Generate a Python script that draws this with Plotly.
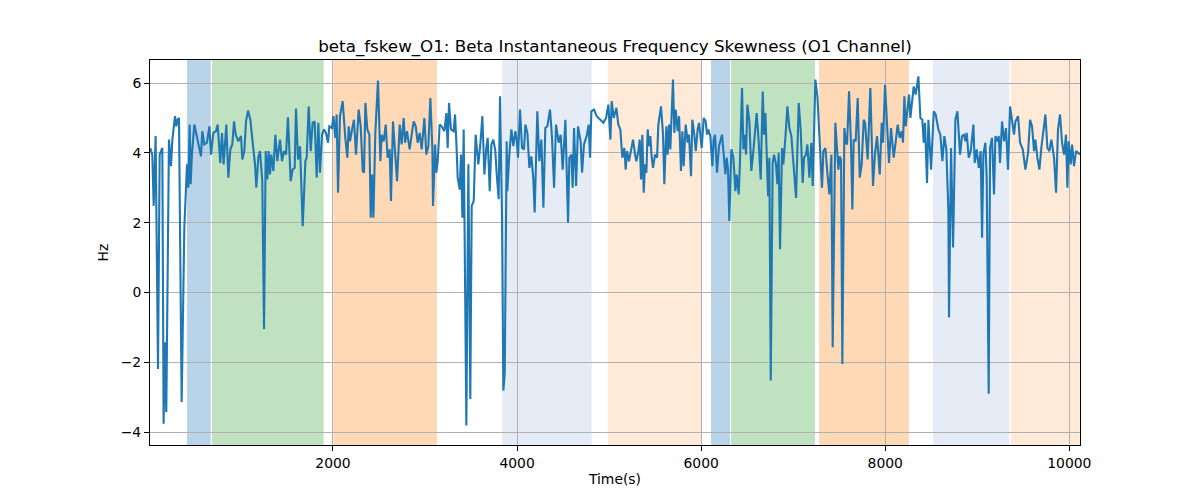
import plotly.graph_objects as go

# ---- data (time in s, value in Hz) ----
time_s = [
    15, 37, 52, 73, 99, 117, 146, 160, 175, 189, 218, 240, 255, 284, 298, 312, 327, 356, 385, 414,
    428, 443, 454, 468, 494, 523, 548, 566, 580, 602, 631, 657, 675, 700, 729, 747, 776, 794, 812, 841,
    863, 885, 906, 925, 943, 972, 1001, 1015, 1037, 1055, 1077, 1102, 1124, 1153, 1167, 1189, 1207, 1232,
    1251, 1269, 1287, 1301, 1316, 1330, 1352, 1374, 1395, 1424, 1446, 1468, 1490, 1511, 1540, 1562, 1584,
    1598, 1620, 1642, 1671, 1700, 1714, 1736, 1758, 1779, 1801, 1823, 1841, 1859, 1881, 1902, 1924, 1946,
    1960, 1989, 2004, 2026, 2040, 2055, 2076, 2105, 2134, 2156, 2171, 2185, 2207, 2228, 2250, 2279, 2301,
    2323, 2337, 2352, 2373, 2395, 2410, 2424, 2439, 2460, 2489,
    2515, 2529, 2551, 2573, 2594, 2616, 2630, 2652, 2674, 2696, 2725, 2746, 2768, 2783, 2804, 2833, 2855,
    2877, 2899, 2920, 2942, 2964, 2993, 3014, 3036, 3058, 3080, 3087, 3109, 3123, 3138, 3159, 3181, 3210,
    3232, 3246, 3261, 3282, 3311, 3326, 3340, 3355, 3377, 3391, 3406, 3420, 3449, 3471, 3492, 3507, 3529,
    3550, 3579, 3601, 3623, 3645, 3666, 3681, 3703,
    3721, 3742, 3764, 3779, 3800, 3815, 3837, 3851, 3866, 3887, 3894, 3916, 3938, 3960, 3981, 3996, 4010,
    4032, 4054, 4076, 4090, 4112, 4134, 4155, 4177, 4191, 4220, 4242, 4264, 4286, 4307, 4329, 4358, 4380,
    4402, 4423, 4452, 4474, 4496, 4525, 4546, 4554, 4568, 4590, 4604, 4619, 4641, 4662, 4691, 4706, 4727,
    4756, 4778, 4793, 4807, 4836, 4865, 4901, 4938, 4967,
    4992, 5014, 5028, 5050, 5079, 5100, 5122, 5144, 5166, 5180, 5195, 5216, 5238, 5260, 5282, 5296, 5318,
    5332, 5347, 5361, 5376, 5390, 5405, 5419, 5434, 5448, 5463, 5477, 5499, 5521, 5535, 5564, 5586, 5600,
    5622, 5636, 5651, 5665, 5694, 5709, 5723, 5745, 5760, 5781, 5796, 5810, 5832, 5854, 5868, 5890, 5904,
    5926, 5941, 5962, 5977, 6006, 6028, 6049, 6064, 6078, 6100, 6122, 6136, 6151, 6172, 6194,
    6227, 6241, 6263, 6277, 6292, 6306, 6328, 6350, 6372, 6386, 6408, 6422, 6444, 6459, 6473, 6488, 6502,
    6524, 6545, 6567, 6582, 6603, 6625, 6647, 6669, 6683, 6698, 6712, 6727, 6741, 6756, 6777, 6792, 6813,
    6828, 6842, 6857, 6879, 6893, 6915, 6937, 6958, 6980, 7009, 7031, 7060, 7082, 7103, 7118, 7139, 7154,
    7176, 7197, 7212, 7241, 7263, 7284, 7313, 7328, 7350, 7371, 7393, 7415, 7429, 7458,
    7476, 7491, 7505, 7520, 7534, 7556, 7570, 7585, 7607, 7628, 7643, 7657, 7679, 7701, 7723, 7744, 7766,
    7781, 7809, 7838, 7867, 7889, 7911, 7940, 7962, 7976, 7998, 8020, 8041, 8063, 8092, 8114, 8135, 8157,
    8179, 8193, 8208, 8222, 8237, 8259, 8273, 8295, 8309, 8331, 8360, 8382, 8403, 8418, 8432, 8454, 8469,
    8498, 8527, 8548, 8577, 8599, 8621, 8642, 8664, 8686, 8693, 8715, 8737,
    8762, 8784, 8813, 8834, 8856, 8871, 8885, 8907, 8929, 8958, 8972, 8994, 9016, 9037, 9052, 9066, 9088,
    9102, 9124, 9139, 9160, 9182, 9197, 9218, 9233, 9247, 9269, 9291, 9312, 9334, 9356, 9378, 9399, 9414,
    9443, 9465, 9494, 9523, 9552, 9573, 9595, 9617, 9631, 9653, 9675, 9696, 9718, 9740, 9762, 9783, 9805,
    9834, 9856, 9877, 9899, 9921, 9943, 9964, 9979, 9993, 10015, 10030, 10051, 10073, 10095, 10115,
]

beta_fskew = [
    4.14, 3.95, 2.48, 4.48, -2.19, 3.95, 4.14, -3.76, -1.43, -3.43, 4.38, 3.62, 4.38, 5.05, 4.76, 4.95, 5.00, -3.14, 1.86, 3.67,
    3.00, 4.81, 3.10, 4.00, 4.81, 4.43, 4.14, 3.90, 4.62, 4.24, 4.29, 4.76, 3.95, 4.57, 4.62, 4.81, 3.71, 4.57, 3.67, 4.81,
    3.29, 4.10, 4.24, 4.90, 4.52, 4.33, 4.48, 3.81, 4.05, 4.90, 5.21, 4.95, 4.38, 3.67, 3.00, 3.86, 4.05, 3.19,
    -1.05, 4.05, 3.24, 4.05, 3.38, 3.95, 3.48, 4.52, 3.76, 4.38, 3.76, 4.05, 3.95, 5.02, 3.19, 3.52, 3.57,
    5.27, 3.81, 4.19, 1.90, 3.76, 3.86, 5.33, 4.05, 4.86, 4.90, 3.29, 4.86, 3.43, 4.52, 4.67, 4.57, 4.29,
    4.76, 4.71, 5.05, 4.43, 5.10, 2.86, 5.05, 5.48, 4.43, 3.86, 4.76, 4.33, 4.67, 4.95, 3.95, 5.24, 4.76,
    3.48, 3.43, 5.43, 4.67, 4.52, 2.14, 3.38, 2.14, 4.57, 6.07,
    3.76, 4.52, 4.33, 4.81, 3.86, 4.10, 2.62, 4.90, 4.14, 3.19, 4.81, 4.24, 5.00, 4.29, 4.62, 4.10, 4.52,
    4.90, 4.76, 4.29, 4.57, 4.10, 5.00, 3.95, 4.19, 5.57, 4.10, 2.48, 4.24, 3.43, 3.76, 4.81, 4.76, 4.62,
    5.14, 4.14, 5.43, 4.67, 4.62, 5.10, 4.33, 3.29, 2.95, 3.95, 2.14, 4.67, -3.81, 3.67, -3.05, 2.48, 2.62,
    4.52, 3.67, 4.24, 5.05, 3.38, 4.14, 4.43, 2.90,
    4.24, 4.38, 4.05, 3.38, 2.67, 5.62, 2.05, -2.81, -2.33, 4.33, 2.90, 3.95, 4.67, 4.19, 4.62, 4.38, 3.86,
    5.24, 4.14, 4.10, 4.81, 4.57, 3.57, 3.90, 3.24, 2.29, 5.19, 3.76, 4.38, 2.43, 4.71, 4.76, 5.24, 4.43,
    3.00, 4.81, 4.29, 4.52, 3.52, 4.95, 3.19, 2.00, 3.86, 3.95, 3.00, 4.71, 3.05, 4.76, 4.33, 3.43, 4.24,
    4.48, 4.81, 3.86, 5.19, 5.24, 5.05, 4.95, 4.86, 5.00,
    5.38, 4.38, 5.48, 5.00, 5.29, 4.81, 4.67, 3.86, 4.14, 3.52, 4.05, 3.76, 4.05, 4.38, 3.95, 3.76, 4.05,
    4.38, 3.24, 4.52, 2.86, 3.67, 3.43, 4.67, 4.19, 4.48, 3.86, 3.57, 3.95, 3.86, 4.81, 5.33, 4.52, 3.10,
    4.76, 3.95, 4.81, 4.10, 6.10, 4.57, 5.24, 4.62, 5.05, 3.48, 4.62, 3.62, 4.81, 4.29, 4.52, 3.33, 4.95,
    4.52, 4.05, 4.67, 4.86, 4.14, 5.00, 4.90, 4.52, 4.67, 4.48, 3.62, 4.38, 4.52, 3.43, 4.19,
    4.52, 4.10, 3.38, 3.86, 3.52, 2.05, 4.10, 3.86, 2.90, 3.38, 2.81, 3.76, 5.86, 4.10, 4.52, 3.95, 5.38,
    4.90, 3.48, 4.05, 4.52, 5.14, 4.33, 3.24, 5.76, 4.52, 5.14, 3.95, 2.76, 3.86, -2.52, 3.71, 3.95, 3.67,
    3.10, 4.00, 1.24, 4.14, 3.67, 4.43, 5.33, 4.71, 4.48, 3.48, 2.71, 5.43, 4.62, 3.14, 3.86, 3.95, 4.24,
    3.29, 4.29, 3.05, 6.10, 5.62, 4.52, 3.00, 4.05, 4.14, 3.43, 2.81, 3.95, -1.57, 4.86,
    3.95, 3.52, 3.90, 3.81, -2.05, 4.71, 4.33, 4.24, 5.76, 4.24, 2.38, 4.38, 4.33, 5.57, 3.29, 3.67, 4.95,
    4.86, 3.81, 5.86, 3.05, 4.00, 4.48, 3.38, 4.86, 4.29, 5.95, 4.71, 3.71, 4.71, 3.86, 4.33, 4.81, 4.43,
    4.62, 4.29, 5.62, 4.76, 5.10, 5.67, 5.00, 5.48, 5.90, 5.67, 6.19, 5.00, 4.95, 4.29, 4.86, 3.14, 4.95,
    3.52, 5.19, 5.10, 4.67, 4.52, 3.76, 4.48, 4.10, 2.33, -0.71, 4.14, 1.29,
    4.95, 5.19, 3.95, 4.48, 4.52, 4.33, 4.57, 3.86, 4.05, 4.81, 3.71, 4.10, 3.57, 4.05, 1.57, 3.95, 4.29,
    3.29, -2.90, 4.14, 4.43, 2.81, 4.48, 4.33, 4.48, 3.71, 4.90, 4.33, 4.71, 3.52, 5.33, 4.90, 4.52, 4.90,
    5.05, 4.29, 4.10, 3.52, 4.00, 4.95, 4.76, 4.05, 4.38, 3.86, 3.52, 4.14, 4.71, 5.10, 4.14, 4.05, 4.38,
    3.86, 2.86, 4.67, 5.10, 4.29, 3.95, 4.52, 3.00, 4.33, 3.67, 4.24, 3.62, 4.05, 4.00, 3.95,
]

# shaded intervals (start, end, colour)
band_start = [414, 686, 2004, 3836, 4985, 6107, 6325, 7281, 8519, 9363]
band_end = [671, 1899, 3130, 4811, 6006, 6314, 7237, 8258, 9348, 10115]
band_color = ["#b9d4e8", "#c0e2c0", "#ffd8b6", "#e5ecf6", "#ffead7",
              "#b9d4e8", "#c0e2c0", "#ffd8b6", "#e5ecf6", "#ffead7"]

x_ticks = [2000, 4000, 6000, 8000, 10000]
y_ticks = [-4, -2, 0, 2, 4, 6]

fig = go.Figure()

for s, e, c in zip(band_start, band_end, band_color):
    fig.add_shape(type="rect", xref="x", yref="paper", x0=s, x1=e, y0=0, y1=1,
                  fillcolor=c, opacity=1, line_width=0, layer="below")

fig.add_trace(go.Scatter(
    x=time_s, y=beta_fskew, mode="lines",
    line=dict(color="#1f77b4", width=2.1),
    showlegend=False,
))

font_family = "DejaVu Sans"
# the page body adds an 8 px offset, compensated in the margins
fig.update_layout(
    width=1200, height=500,
    margin=dict(l=142, r=128, t=52, b=63, autoexpand=False),
    paper_bgcolor="white", plot_bgcolor="white",
    font=dict(family=font_family, color="black", size=13.9),
    title=dict(
        text="beta_fskew_O1: Beta Instantaneous Frequency Skewness (O1 Channel)",
        x=(615 - 8) / 1200, xanchor="center", xref="container",
        y=1 - (46 - 8) / 500, yanchor="middle", yref="container",
        font=dict(size=16.7, family=font_family, color="black"),
    ),
)

axis_common = dict(
    showline=True, linecolor="black", linewidth=1, mirror=True,
    ticks="outside", ticklen=5, tickwidth=1, tickcolor="black",
    showgrid=True, gridcolor="#b0b0b0", gridwidth=1,
    zeroline=False, automargin=False,
    tickfont=dict(size=13.9, family=font_family, color="black"),
)

fig.update_xaxes(
    range=[12, 10116], tickvals=x_ticks, ticktext=[str(v) for v in x_ticks],
    title=dict(text="Time(s)", standoff=4, font=dict(size=13.9, family=font_family)),
    **axis_common,
)
fig.update_yaxes(
    range=[-4.37, 6.66], tickvals=y_ticks, ticktext=["\u22124", "\u22122", "0", "2", "4", "6"],
    title=dict(text="Hz", standoff=8, font=dict(size=13.9, family=font_family)),
    **axis_common,
)

fig.write_html("out.html")
